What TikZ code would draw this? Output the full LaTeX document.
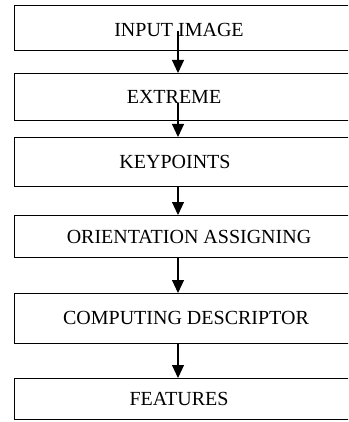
\documentclass[tikz,border=0pt]{standalone}
\usepackage{fontspec}
\setmainfont{Liberation Serif}
\usetikzlibrary{arrows.meta}
\begin{document}
\begin{tikzpicture}[x=1pt,y=1pt,
  stepbox/.style={draw=black,line width=1.3pt,rectangle,inner sep=0pt,minimum width=338pt,anchor=north west},
  lbl/.style={inner sep=0pt,font=\fontsize{20}{24}\selectfont},
  arr/.style={line width=1.1pt,-{Triangle[length=13pt,width=12pt]}}]
\useasboundingbox (0,0) rectangle (348,-422);
\clip (0,0) rectangle (348,-422);
\node[stepbox,minimum height=45pt] (b1) at (14,-5) {};
\node[stepbox,minimum height=47pt] (b2) at (14,-73) {};
\node[stepbox,minimum height=49pt] (b3) at (14,-137) {};
\node[stepbox,minimum height=42pt] (b4) at (14,-215) {};
\node[stepbox,minimum height=50pt] (b5) at (14,-293) {};
\node[stepbox,minimum height=41pt] (b6) at (14,-378) {};
\node[lbl] (t1) at (179,-29.5) {INPUT IMAGE};
\node[lbl] (t2) at (174,-96.5) {EXTREME};
\node[lbl] (t3) at (175,-161.5) {KEYPOINTS};
\node[lbl] (t4) at (189,-236.5) {ORIENTATION ASSIGNING};
\node[lbl] (t5) at (186,-318) {COMPUTING DESCRIPTOR};
\node[lbl] (t6) at (179,-398.5) {FEATURES};
\coordinate (s1) at (178,-31);
\coordinate (s2) at (178,-103);
\draw[arr] (s1) -- (s1 |- b2.north);
\draw[arr] (s2) -- (s2 |- b3.north);
\draw[arr] (s1 |- b3.south) -- (s1 |- b4.north);
\draw[arr] (s1 |- b4.south) -- (s1 |- b5.north);
\draw[arr] (s1 |- b5.south) -- (s1 |- b6.north);
\end{tikzpicture}
\end{document}
